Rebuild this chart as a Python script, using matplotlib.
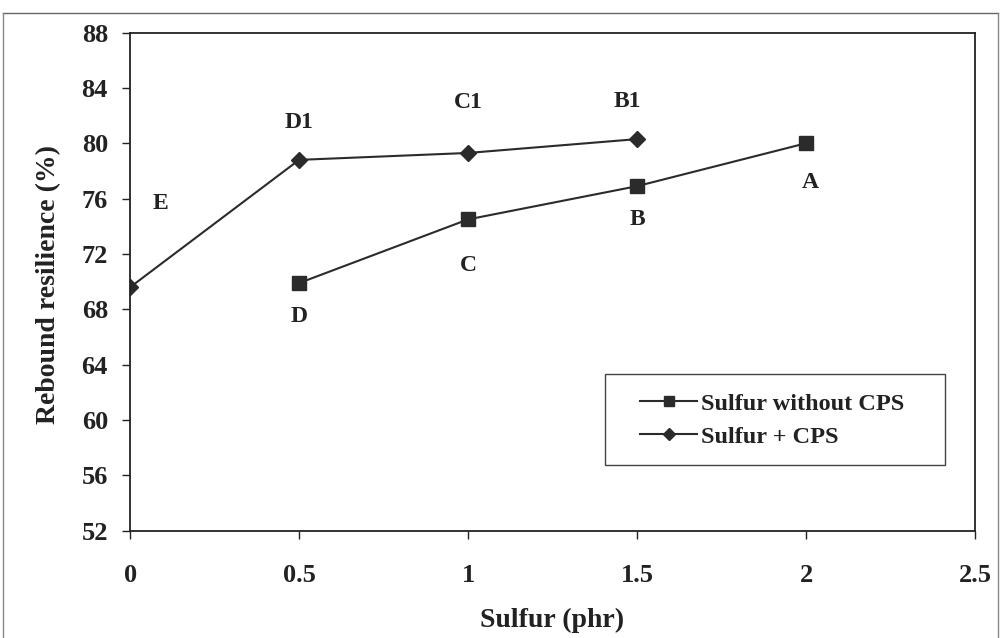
import matplotlib
matplotlib.use("Agg")
import matplotlib.pyplot as plt
from matplotlib.patches import Rectangle
from matplotlib.lines import Line2D

x_wo = [0.5, 1.0, 1.5, 2.0]
y_wo = [69.9, 74.5, 76.9, 80.0]
lab_wo = ["D", "C", "B", "A"]

x_cps = [0.0, 0.5, 1.0, 1.5]
y_cps = [69.6, 78.8, 79.3, 80.3]
lab_cps = ["E", "D1", "C1", "B1"]

series_names = ["Sulfur without CPS", "Sulfur + CPS"]
xticks = [0, 0.5, 1, 1.5, 2, 2.5]
xticklabels = ["0", "0.5", "1", "1.5", "2", "2.5"]
yticks = list(range(52, 89, 4))

plt.rcParams['font.family'] = ['Liberation Serif', 'DejaVu Serif']
plt.rcParams['font.weight'] = 'bold'

fig = plt.figure(figsize=(10.01, 6.38), dpi=100)
ax = fig.add_axes([0.130, 0.168, 0.844, 0.781])

col = '#2b2b2b'
ax.plot(x_wo, y_wo, color=col, lw=1.5, marker='s', ms=9.4, mfc=col, mec=col,
        label=series_names[0])
ax.plot(x_cps, y_cps, color=col, lw=1.5, marker='D', ms=8.3, mfc=col, mec=col,
        label=series_names[1])

# point labels (offsets in points)
offs_wo = [(0, -24), (0, -33), (0, -24), (3, -28)]
offs_cps = [(22, 60), (0, 27), (0, 36), (-7, 27)]
for xv, yv, t, o in zip(x_wo, y_wo, lab_wo, offs_wo):
    ax.annotate(t, (xv, yv), xytext=o, textcoords='offset points',
                ha='center', va='center', fontsize=17, fontweight='bold', color='#222')
for xv, yv, t, o in zip(x_cps, y_cps, lab_cps, offs_cps):
    ax.annotate(t, (xv, yv), xytext=o, textcoords='offset points',
                ha='center', va='center', fontsize=17, fontweight='bold', color='#222')

ax.set_xlim(0, 2.5)
ax.set_ylim(52, 88)
ax.set_xticks(xticks)
ax.set_xticklabels(xticklabels)
ax.set_yticks(yticks)
ax.tick_params(axis='both', direction='out', length=6, width=1, labelsize=19,
               colors='#222')
ax.tick_params(axis='y', pad=10)
ax.tick_params(axis='x', pad=18)
for s in ax.spines.values():
    s.set_linewidth(1.3)
    s.set_color('#222')

ax.set_xlabel("Sulfur (phr)", fontsize=20, fontweight='bold', color='#222', va='center')
ax.xaxis.set_label_coords(0.5, -0.18)
ax.set_ylabel("Rebound resilience (%)", fontsize=20, fontweight='bold', color='#222',
              va='center')
ax.yaxis.set_label_coords(-0.096, 0.494)

# legend box and entries
ax.add_patch(Rectangle((0.562, 0.1325), 0.9645 - 0.562, 0.315 - 0.1325,
                       transform=ax.transAxes, fill=True, facecolor='white',
                       edgecolor='#444', lw=1.0, zorder=4))
leg = ax.legend(loc='upper left', bbox_to_anchor=(0.6036, 0.277), fontsize=17.5,
                frameon=False, handlelength=2.35, borderpad=0, labelspacing=0.45,
                handletextpad=0.15, borderaxespad=0, markerscale=0.75)
leg.set_zorder(5)
for t in leg.get_texts():
    t.set_color('#222')

# outer frame of the figure
fig.add_artist(Line2D([0.003, 0.997], [0.980, 0.980], transform=fig.transFigure,
                      color='#666', lw=1.0))
fig.add_artist(Line2D([0.003, 0.003], [0.0, 0.980], transform=fig.transFigure,
                      color='#888', lw=1.0))
fig.add_artist(Line2D([0.997, 0.997], [0.0, 0.980], transform=fig.transFigure,
                      color='#888', lw=1.0))

fig.savefig("out.png", dpi=100)
